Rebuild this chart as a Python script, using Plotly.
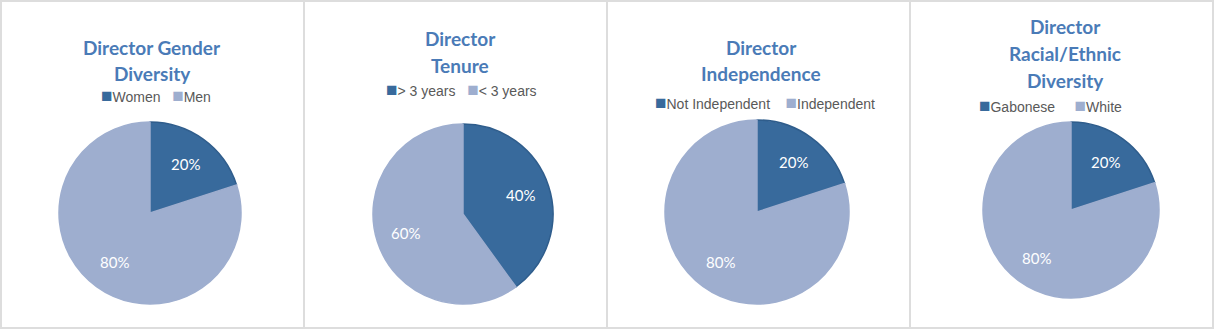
import math
import plotly.graph_objects as go

# Board composition panels: one pie per metric
titles = [
    "Director Gender<br>Diversity",
    "Director<br>Tenure",
    "Director<br>Independence",
    "Director<br>Racial/Ethnic<br>Diversity",
]
labels = [
    ["Women", "Men"],
    ["> 3 years", "< 3 years"],
    ["Not Independent", "Independent"],
    ["Gabonese", "White"],
]
shares = [
    [20, 80],
    [40, 60],
    [20, 80],
    [20, 80],
]

W, H = 1214, 330
DARK, LIGHT = "#386a9c", "#9eaecf"
TITLE_COLOR = "#4a7bb7"
BORDER = "#dddddd"

# pixel layout per panel: pie centre/radius, title centre x, title first-line y, legend centre and y
pie_geom = [(150, 213, 91), (463, 214, 90), (757, 212, 92), (1071, 210, 88)]
title_x = [152, 460, 761, 1065]
title_y0 = [47, 39, 47, 27]
legend_xy = [(156, 95.5), (461, 89.5), (765, 102.5), (1050, 105.5)]
legend_gap = [3, 3, 4, 5]
panel_edges = [1, 304, 607, 910, 1213]
LABEL_RADIUS = 0.67  # percent labels sit along each slice's mid-angle

fig = go.Figure()
annotations = []

for i in range(4):
    cx, cy, r = pie_geom[i]
    fig.add_trace(go.Pie(
        labels=labels[i],
        values=shares[i],
        sort=False,
        direction="clockwise",
        rotation=0,
        textinfo="none",
        marker=dict(colors=[DARK, LIGHT],
                    line=dict(color=["#2f5d8c", LIGHT], width=1.5)),
        domain=dict(x=[(cx - r) / W, (cx + r) / W],
                    y=[(H - cy - r) / H, (H - cy + r) / H]),
        showlegend=False,
        hoverinfo="label+percent",
    ))
    # percentage labels placed on the slice mid-angles
    total = sum(shares[i])
    start = 0.0
    for v in shares[i]:
        frac = v / total
        mid = (start + frac / 2) * 2 * math.pi
        start += frac
        px = cx + LABEL_RADIUS * r * math.sin(mid)
        py = cy - LABEL_RADIUS * r * math.cos(mid)
        annotations.append(dict(
            text=f"{round(frac * 100)}%", x=px / W, y=1 - py / H,
            xref="paper", yref="paper", xanchor="center", yanchor="middle",
            showarrow=False, font=dict(family="Lato", size=15, color="white")))

for i in range(4):
    for k, line in enumerate(titles[i].split("<br>")):
        annotations.append(dict(
            text=f"<b>{line}</b>", x=title_x[i] / W, y=1 - (title_y0[i] + 26.5 * k) / H,
            xref="paper", yref="paper", xanchor="center", yanchor="middle",
            showarrow=False, font=dict(family="Lato", size=19, color=TITLE_COLOR)))
    gap = "\u00a0" * legend_gap[i]
    sq = '<span style="color:{};font-size:19px">■</span>'
    legend_text = (sq.format(DARK) + labels[i][0] + gap +
                   sq.format(LIGHT) + labels[i][1])
    lx, ly = legend_xy[i]
    annotations.append(dict(
        text=legend_text, x=lx / W, y=1 - ly / H, xref="paper", yref="paper",
        xanchor="center", yanchor="middle", showarrow=False,
        font=dict(family="Liberation Sans", size=14, color="#595959")))

shapes = []
# outer frame and panel separators
shapes.append(dict(type="rect", xref="paper", yref="paper",
                   x0=1 / W, x1=1213 / W, y0=1 - 1 / H, y1=1 - 328 / H,
                   line=dict(color=BORDER, width=2)))
for xe in panel_edges[1:-1]:
    shapes.append(dict(type="line", xref="paper", yref="paper",
                       x0=xe / W, x1=xe / W, y0=1 - 1 / H, y1=1 - 328 / H,
                       line=dict(color=BORDER, width=2)))

fig.update_layout(
    width=W, height=H,
    margin=dict(l=0, r=0, t=0, b=0),
    paper_bgcolor="white", plot_bgcolor="white",
    annotations=annotations, shapes=shapes,
)

fig.write_html("out.html")
